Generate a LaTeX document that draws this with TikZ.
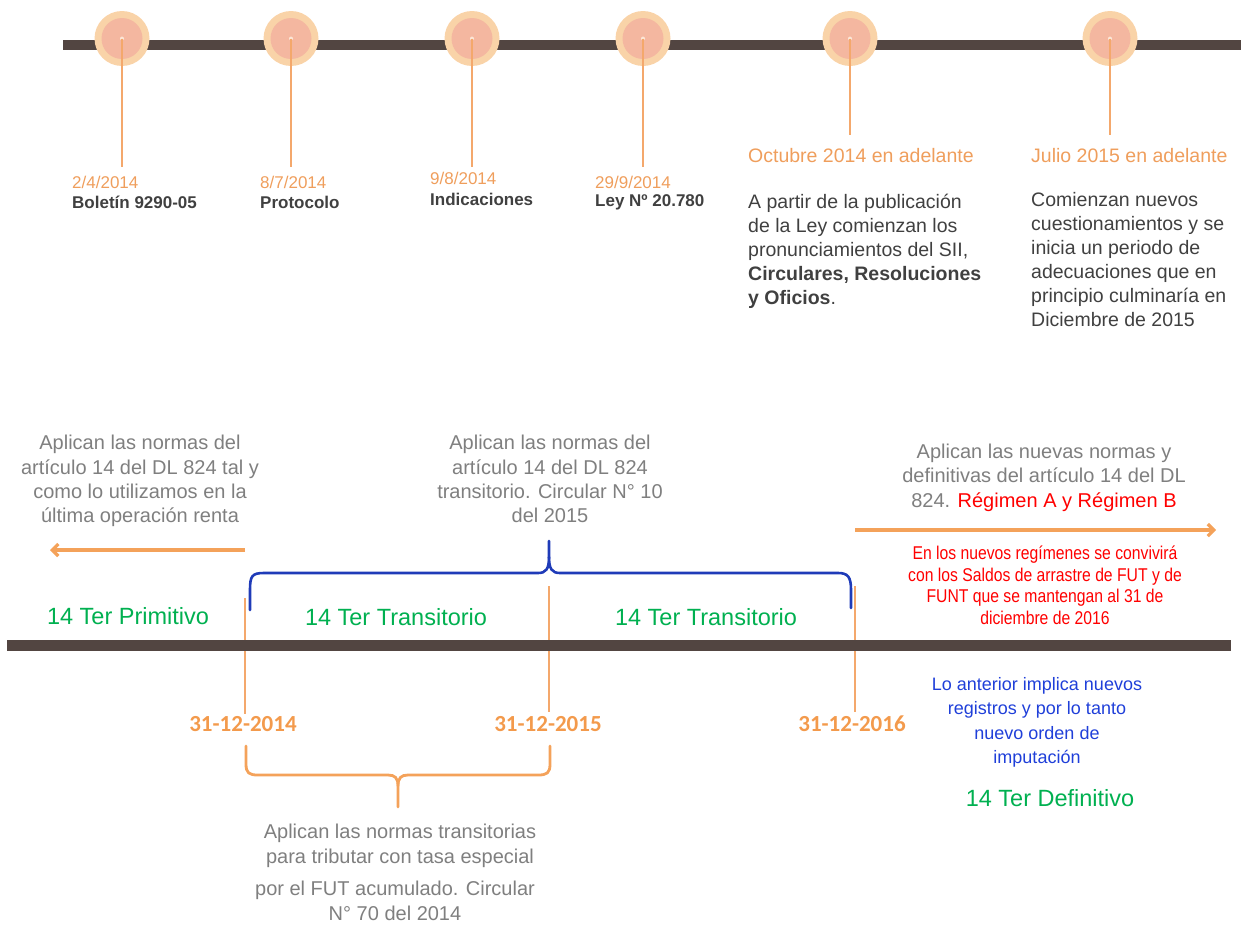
\documentclass[tikz,border=0pt]{standalone}
\usepackage{fontspec}
\setmainfont{Liberation Sans}
\newfontfamily\datefont{Carlito}
\newfontfamily\narrowfont[FakeStretch=0.85]{Liberation Sans}
\usetikzlibrary{arrows.meta}
\definecolor{barbrown}{HTML}{524541}
\definecolor{peachout}{HTML}{F9D3A8}
\definecolor{peachin}{HTML}{F4B7A0}
\definecolor{dotc}{HTML}{FCE6D6}
\definecolor{lineorange}{HTML}{F4A86C}
\definecolor{dateorange}{HTML}{EF9E5C}
\definecolor{boldorange}{HTML}{F39A4C}
\definecolor{darktxt}{HTML}{404040}
\definecolor{txtgray}{HTML}{7F7F7F}
\definecolor{tgreen}{HTML}{00B050}
\definecolor{bracebl}{HTML}{1F3BB8}
\definecolor{txtblue}{HTML}{1F3FD9}
\definecolor{arroworange}{HTML}{F4A25A}
\begin{document}
\begin{tikzpicture}[x=1pt,y=-1pt,
  ms/.style={circle,fill=peachout,minimum size=55pt,inner sep=0pt,
    path picture={\fill[peachin] (path picture bounding box.center) circle (20.5pt);
                  \fill[dotc] (path picture bounding box.center) circle (2pt);}},
  vline/.style={draw=lineorange,line width=1.2pt},
  topdate/.style={text=dateorange,font=\fontsize{17}{20}\selectfont,inner sep=0pt,anchor=west},
  toplbl/.style={text=darktxt,font=\fontsize{17}{20}\selectfont\bfseries,inner sep=0pt,anchor=west},
  toptitle/.style={text=dateorange,font=\fontsize{19.5}{24}\selectfont,inner sep=0pt,anchor=west},
  toppara/.style={text=darktxt,font=\fontsize{19.5}{24}\selectfont,inner sep=0pt,anchor=north west,align=left},
  graytxt/.style={text=txtgray,font=\fontsize{20}{24.3}\selectfont,inner sep=0pt,anchor=north,align=center},
  greentxt/.style={text=tgreen,font=\fontsize{23.5}{28}\selectfont,inner sep=0pt},
  bigdate/.style={text=boldorange,font=\datefont\bfseries\fontsize{23}{26}\selectfont,inner sep=0pt},
  redtxt/.style={text=red,font=\narrowfont\fontsize{18.5}{21.4}\selectfont,inner sep=0pt,anchor=north,align=center},
  bluetxt/.style={text=txtblue,font=\fontsize{18}{24.4}\selectfont,inner sep=0pt,anchor=north,align=center},
  oarrow/.style={draw=arroworange,line width=3.2pt,-{Straight Barb[length=6pt,width=12pt,line width=3.2pt]}},
  bluebrace/.style={draw=bracebl,line width=2.6pt,line cap=round,line join=round},
  orangebrace/.style={draw=arroworange,line width=2.8pt,line cap=round,line join=round}
]
\useasboundingbox (0,0) rectangle (1241,926);

% ---------- top timeline ----------
\fill[barbrown] (63,39.5) rectangle (1241,49.5);
\node[ms] (c1) at (122,38.5) {};
\node[ms] (c2) at (291,38.5) {};
\node[ms] (c3) at (472,38.5) {};
\node[ms] (c4) at (643,38.5) {};
\node[ms] (c5) at (850,38.5) {};
\node[ms] (c6) at (1110,38.5) {};
\coordinate (e1) at (122,167);
\coordinate (e2) at (291,167);
\coordinate (e3) at (472,167);
\coordinate (e4) at (643,167);
\coordinate (e5) at (850,135);
\coordinate (e6) at (1110,135);
\foreach \i in {1,...,6} \draw[vline] (c\i.center) -- (e\i);

\node[topdate] (d1) at (72,182) {2/4/2014};
\node[toplbl]  (l1) at (72,202) {Boletín 9290-05};
\node[topdate] (d2) at (260,182) {8/7/2014};
\node[toplbl]  (l2) at (260,202) {Protocolo};
\node[topdate] (d3) at (430,178) {9/8/2014};
\node[toplbl]  (l3) at (430,199) {Indicaciones};
\node[topdate] (d4) at (595,182) {29/9/2014};
\node[toplbl]  (l4) at (595,202) {Ley Nº 20.780};

\node[toptitle] (t5) at (748,156) {Octubre 2014 en adelante};
\node[toppara] (p5) at (748,194) {A partir de la publicación\\de la Ley comienzan los\\pronunciamientos del SII,\\\textbf{Circulares, Resoluciones}\\\textbf{y Oficios}.};
\node[toptitle] (t6) at (1031,156) {Julio 2015 en adelante};
\node[toppara] (p6) at (1031,192) {Comienzan nuevos\\cuestionamientos y se\\inicia un periodo de\\adecuaciones que en\\principio culminaría en\\Diciembre de 2015};

% ---------- bottom timeline ----------
\node[graytxt] (g1) at (140,435) {Aplican las normas del\\artículo 14 del DL 824 tal y\\como lo utilizamos en la\\última operación renta};
\node[graytxt] (g2) at (550,435) {Aplican las normas del\\artículo 14 del DL 824\\transitorio. Circular N° 10\\del 2015};
\node[graytxt] (g3) at (1044,444) {Aplican las nuevas normas y\\definitivas del artículo 14 del DL\\824. \textcolor{red}{Régimen A y Régimen B}};

\coordinate (la1) at (245,550);
\coordinate (la2) at (50,550);
\draw[oarrow] (la1) -- (la2);
\coordinate (ra1) at (855,530);
\coordinate (ra2) at (1216,530);
\draw[oarrow] (ra1) -- (ra2);

\node[redtxt] (r1) at (1045,546) {En los nuevos regímenes se convivirá\\con los Saldos de arrastre de FUT y de\\FUNT que se mantengan al 31 de\\diciembre de 2016};

% blue brace
\draw[bluebrace] (250,610) -- (250,590) .. controls (250,576) and (252,573) .. (264,573)
  -- (538,573) .. controls (546,573) and (549,569) .. (549,557) -- (549,541);
\draw[bluebrace] (549,557) .. controls (549,569) and (552,573) .. (560,573)
  -- (838,573) .. controls (848,573) and (851,577) .. (851,590) -- (851,608);

\node[greentxt] (h1) at (128,616) {14 Ter Primitivo};
\node[greentxt] (h2) at (396,617) {14 Ter Transitorio};
\node[greentxt] (h3) at (706,617) {14 Ter Transitorio};

% orange tick lines
\coordinate (v1a) at (245,598);
\coordinate (v2a) at (549,586);
\coordinate (v3a) at (855,586);
\node[bigdate] (b1) at (243,724) {31-12-2014};
\node[bigdate] (b2) at (548,724) {31-12-2015};
\node[bigdate] (b3) at (852,724) {31-12-2016};
\coordinate (v1b) at (245,714);
\coordinate (v2b) at (549,712);
\coordinate (v3b) at (855,712);
\draw[vline] (v1a) -- (v1b);
\draw[vline] (v2a) -- (v2b);
\draw[vline] (v3a) -- (v3b);

\fill[barbrown] (7,640) rectangle (1231,651);

% orange brace
\draw[orangebrace] (246,746) -- (246,764) .. controls (246,773) and (249,775) .. (258,775)
  -- (388,775) .. controls (395,775) and (398,778) .. (398,786) -- (398,807);
\draw[orangebrace] (398,786) .. controls (398,778) and (401,775) .. (408,775)
  -- (538,775) .. controls (547,775) and (550,773) .. (550,764) -- (550,746);

\node[graytxt] (g4) at (400,824) {Aplican las normas transitorias\\para tributar con tasa especial};
\node[graytxt] (g5) at (395,881) {por el FUT acumulado. Circular\\N° 70 del 2014};

\node[bluetxt] (u1) at (1037,677) {Lo anterior implica nuevos\\registros y por lo tanto\\nuevo orden de\\imputación};
\node[greentxt] (h4) at (1050,798) {14 Ter Definitivo};
\end{tikzpicture}
\end{document}
